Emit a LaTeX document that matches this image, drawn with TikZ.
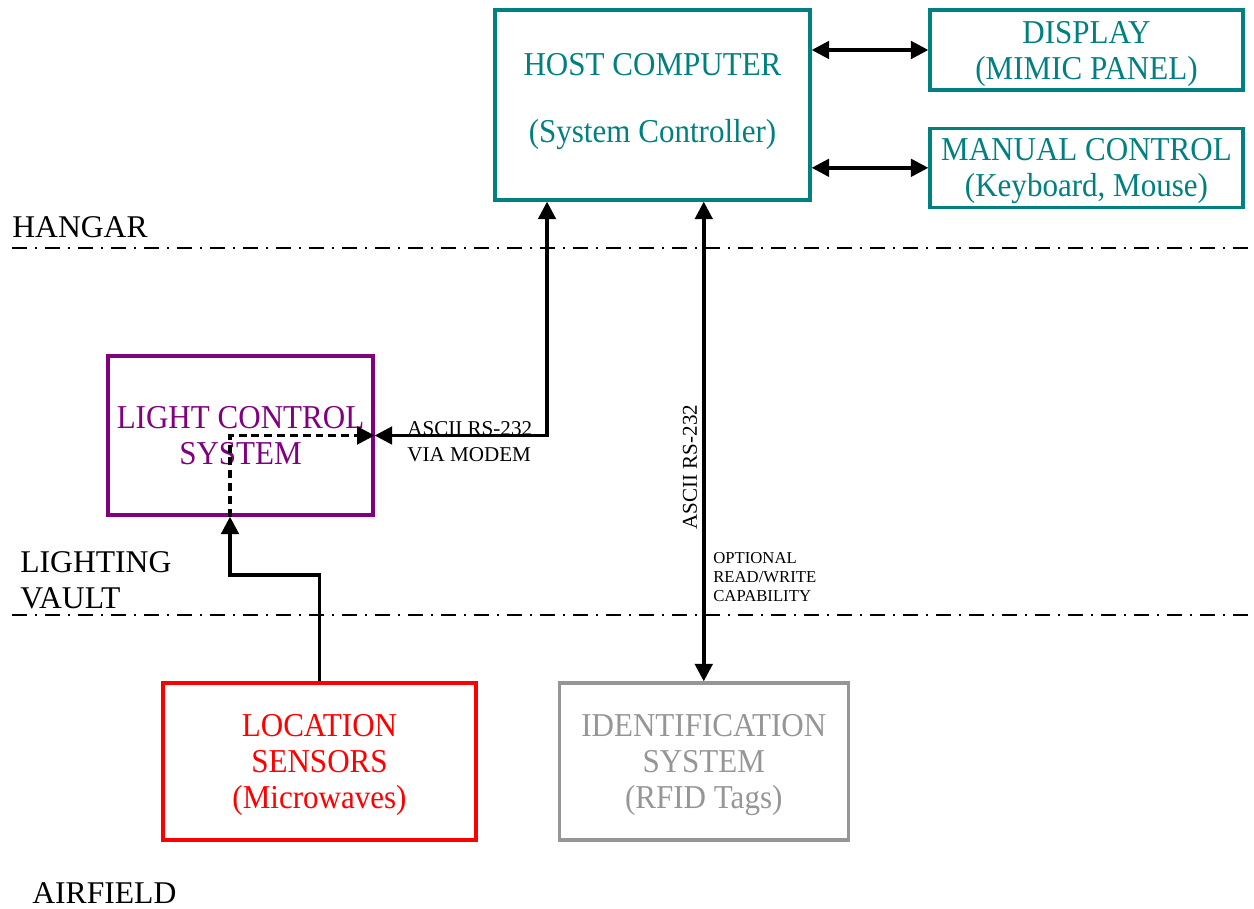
\documentclass[tikz,border=0pt]{standalone}
\usepackage{fontspec}
\setmainfont{Liberation Serif}
\newfontfamily\boxfont{Liberation Serif}[FakeStretch=0.93]
\usetikzlibrary{arrows.meta, positioning}
\definecolor{hostteal}{RGB}{0,128,128}
\definecolor{lightpurple}{RGB}{128,0,128}
\definecolor{sensorred}{RGB}{255,0,0}
\definecolor{idgray}{RGB}{150,150,150}

\begin{document}
\begin{tikzpicture}[x=0.02cm, y=-0.02cm,
        >={Triangle[length=10pt,width=10pt]},
        box/.style={draw, line width=1.9pt, align=center, inner sep=0pt, text depth=0pt,
            font=\boxfont\fontsize{19}{20.5}\selectfont},
        link/.style={line width=2pt},
        sense/.style={line width=1.9pt, dash pattern=on 4.5pt off 2.8pt},
        zone/.style={line width=1.7pt, dash pattern=on 0.3cm off 0.16cm on 0.04cm off 0.16cm},
        zonelabel/.style={anchor=base west, inner sep=0pt, font=\fontsize{18}{21}\selectfont},
        note/.style={inner sep=0pt, align=left, font=\fontsize{12}{14.7}\selectfont}]
    \useasboundingbox (0,0) rectangle (1254,909);
        \node (host)    [box, hostteal, text depth=8pt, minimum width=6.3cm, minimum height=3.8cm] at (652.5,105)
            {HOST COMPUTER\\[18pt](System Controller)};
        \node (display) [box, hostteal, minimum width=6.26cm, minimum height=1.6cm] at (1086.5,50)
            {DISPLAY\\(MIMIC PANEL)};
        \node (manual)  [box, hostteal, minimum width=6.26cm, minimum height=1.58cm, below=0.7cm of display]
            {MANUAL CONTROL\\(Keyboard, Mouse)};
        \node (lcs)     [box, lightpurple, minimum width=5.3cm, minimum height=3.18cm] at (240.5,435.5)
            {LIGHT CONTROL\\SYSTEM};
        \node (loc)     [box, sensorred, minimum width=6.26cm, minimum height=3.14cm] at (319.5,761.5)
            {LOCATION\\SENSORS\\(Microwaves)};
        \node (id)      [box, idgray, minimum width=5.78cm, minimum height=3.14cm, right=1.6cm of loc]
            {IDENTIFICATION\\SYSTEM\\(RFID Tags)};
        \node (hangar)   [zonelabel] at (12,237)  {HANGAR};
        \node (lighting) [zonelabel] at (20,572)  {LIGHTING};
        \node (vault)    [zonelabel] at (20,608)  {VAULT};
        \node (airfield) [zonelabel] at (32,903)  {AIRFIELD};
        \node (modem) [note, anchor=west] at (407,442) {ASCII RS-232\\VIA MODEM};
        \node (rs)    [note, rotate=90] at (690,467) {ASCII RS-232};
        \node (rw)    [note, anchor=north west, font=\fontsize{9.5}{10.8}\selectfont] at (713,552)
            {OPTIONAL\\READ/WRITE\\CAPABILITY};
        \coordinate (turn) at (230,575);
        \draw[zone] (12,248) -- (1254,248);
        \draw[zone] (12,615) -- (1254,615);
        \draw[link, <->] (host.east |- display.west) -- (display.west);
        \draw[link, <->] (host.east |- manual.west)  -- (manual.west);
        \draw[link, <->] (lcs.east) -| ([xshift=-2.11cm]host.south);
        \draw[link, <->] (id.north) -- (id.north |- host.south);
        \draw[link, ->]  (loc.north) |- (turn) -- (turn |- lcs.south);
        \draw[sense, ->] (turn |- lcs.south) -- (turn |- lcs.east) -- (lcs.east);
    \end{tikzpicture}
\end{document}
